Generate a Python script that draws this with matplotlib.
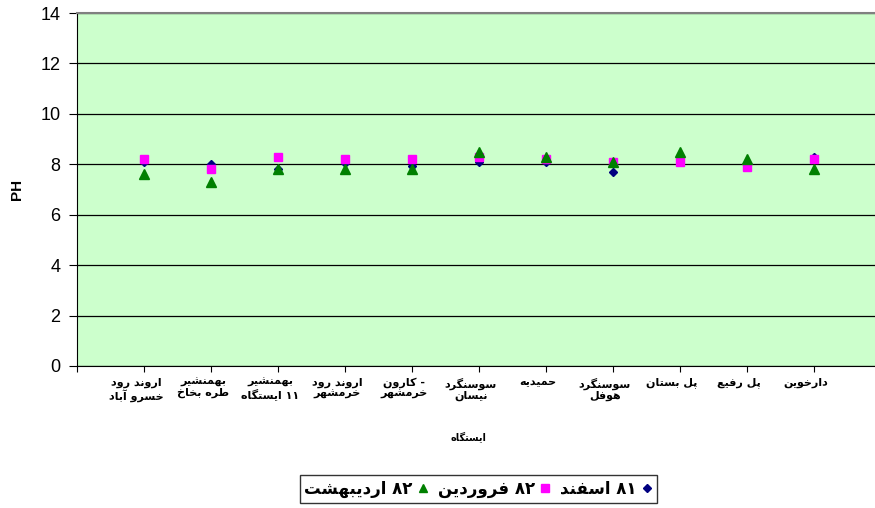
import numpy as np
import matplotlib.pyplot as plt
from matplotlib.lines import Line2D

# Persian station names (logical order)
stations = [
    "اروند رود\nخسرو آباد",
    "بهمنشیر\nطره بخاخ",
    "بهمنشیر\n۱۱ ایستگاه",
    "اروند رود\nخرمشهر",
    "- کارون\nخرمشهر",
    "سوسنگرد\nنیسان",
    "حمیدیه",
    "سوسنگرد\nهوفل",
    "پل بستان",
    "پل رفیع",
    "دارخوین",
]

esfand81 = [8.1, 8.0, 7.8, 8.05, 7.95, 8.1, 8.1, 7.7, 8.1, 7.9, 8.3]
farvardin82 = [8.2, 7.8, 8.3, 8.2, 8.2, 8.3, 8.2, 8.1, 8.1, 7.9, 8.2]
ordibehesht82 = [7.6, 7.3, 7.8, 7.8, 7.8, 8.5, 8.3, 8.1, 8.5, 8.2, 7.8]

series_names = ["۸۱ اسفند", "۸۲ فروردین", "۸۲ اردیبهشت"]
x_title = "ایستگاه"
y_title = "PH"

# minimal Arabic-script shaping, since matplotlib has no RTL/joining support
FORMS = {
    "ا": (0xFE8D, 0xFE8E, None, None), "آ": (0xFE81, 0xFE82, None, None),
    "د": (0xFEA9, 0xFEAA, None, None), "ر": (0xFEAD, 0xFEAE, None, None),
    "ز": (0xFEAF, 0xFEB0, None, None), "و": (0xFEED, 0xFEEE, None, None),
    "ب": (0xFE8F, 0xFE90, 0xFE91, 0xFE92), "پ": (0xFB56, 0xFB57, 0xFB58, 0xFB59),
    "ت": (0xFE95, 0xFE96, 0xFE97, 0xFE98), "ج": (0xFE9D, 0xFE9E, 0xFE9F, 0xFEA0),
    "ح": (0xFEA1, 0xFEA2, 0xFEA3, 0xFEA4), "خ": (0xFEA5, 0xFEA6, 0xFEA7, 0xFEA8),
    "س": (0xFEB1, 0xFEB2, 0xFEB3, 0xFEB4), "ش": (0xFEB5, 0xFEB6, 0xFEB7, 0xFEB8),
    "ط": (0xFEC1, 0xFEC2, 0xFEC3, 0xFEC4), "ع": (0xFEC9, 0xFECA, 0xFECB, 0xFECC),
    "ف": (0xFED1, 0xFED2, 0xFED3, 0xFED4), "ق": (0xFED5, 0xFED6, 0xFED7, 0xFED8),
    "ک": (0xFB8E, 0xFB8F, 0xFB90, 0xFB91), "گ": (0xFB92, 0xFB93, 0xFB94, 0xFB95),
    "ل": (0xFEDD, 0xFEDE, 0xFEDF, 0xFEE0), "م": (0xFEE1, 0xFEE2, 0xFEE3, 0xFEE4),
    "ن": (0xFEE5, 0xFEE6, 0xFEE7, 0xFEE8), "ه": (0xFEE9, 0xFEEA, 0xFEEB, 0xFEEC),
    "ی": (0xFBFC, 0xFBFD, 0xFBFE, 0xFBFF),
}


def shape_word(w):
    out = []
    for i, c in enumerate(w):
        if c not in FORMS:
            out.append(c)
            continue
        f = FORMS[c]
        prev = i > 0 and w[i - 1] in FORMS and FORMS[w[i - 1]][2] is not None
        nxt = f[2] is not None and i + 1 < len(w) and w[i + 1] in FORMS
        if prev and nxt:
            out.append(chr(f[3]))
        elif prev:
            out.append(chr(f[1]))
        elif nxt:
            out.append(chr(f[2]))
        else:
            out.append(chr(f[0]))
    return "".join(out)


def fa(text):
    lines = []
    for line in text.split("\n"):
        toks = []
        for t in line.split(" "):
            if any(ch in FORMS for ch in t):
                toks.append(shape_word(t)[::-1])
            else:
                toks.append(t)
        lines.append(" ".join(toks[::-1]))
    return "\n".join(lines)


plt.rcParams['font.family'] = ['DejaVu Sans']

fig = plt.figure(figsize=(8.75, 5.08), dpi=100)
ax = fig.add_axes([77 / 875, 142 / 508, 798 / 875, 353 / 508])
ax.set_facecolor('#CCFFCC')

x = np.arange(1, len(stations) + 1)
ax.plot(x, esfand81, linestyle='none', marker='D', color='#000080', markersize=4.5, zorder=3)
ax.plot(x, farvardin82, linestyle='none', marker='s', color='#FF00FF', markersize=6, zorder=4)
ax.plot(x, ordibehesht82, linestyle='none', marker='^', color='#008000', markersize=6.5, zorder=5)

ax.set_ylim(0, 14)
ax.set_yticks(np.arange(0, 15, 2))
ax.set_xlim(0, 798 / 67)
ax.set_xticks(np.arange(0, 12))
ax.set_xticklabels([""] * 12)
ax.grid(axis='y', color='black', linewidth=0.9)
ax.set_axisbelow(True)
ax.tick_params(axis='y', direction='out', length=6, labelsize=13, pad=6)
ax.tick_params(axis='x', direction='out', length=4)
for t in ax.get_yticklabels():
    t.set_fontfamily('Liberation Sans')

for s in ['left', 'bottom']:
    ax.spines[s].set_color('black')
ax.spines['top'].set_color('#808080')
ax.spines['top'].set_linewidth(1.5)
ax.spines['right'].set_visible(False)

for xi, name in zip(x, stations):
    ax.text(xi - 0.12, -0.45, fa(name), ha='center', va='top', fontsize=8,
            fontweight='bold', linespacing=1.1)

fig.text(468 / 875, 1 - 437 / 508, fa(x_title), ha='center', va='center',
         fontsize=7, fontweight='bold')
fig.text(17 / 875, 1 - 189 / 508, y_title, rotation=90, ha='center', va='center',
         fontsize=11, fontweight='bold', family='Liberation Sans')

handles = [
    Line2D([], [], linestyle='none', marker='^', color='#008000', markersize=6),
    Line2D([], [], linestyle='none', marker='s', color='#FF00FF', markersize=6),
    Line2D([], [], linestyle='none', marker='D', color='#000080', markersize=4.5),
]
labels = [fa(series_names[2]), fa(series_names[1]), fa(series_names[0])]
leg = fig.legend(handles, labels, loc='center', bbox_to_anchor=(478 / 875, 1 - 489 / 508),
                 ncol=3, markerfirst=False, frameon=True, fancybox=False,
                 prop={'weight': 'bold', 'size': 12}, handlelength=0.6,
                 handletextpad=0.3, columnspacing=0.6, borderpad=0.3)
leg.get_frame().set_edgecolor('black')
leg.get_frame().set_linewidth(1)

fig.savefig('out.png', dpi=100)
